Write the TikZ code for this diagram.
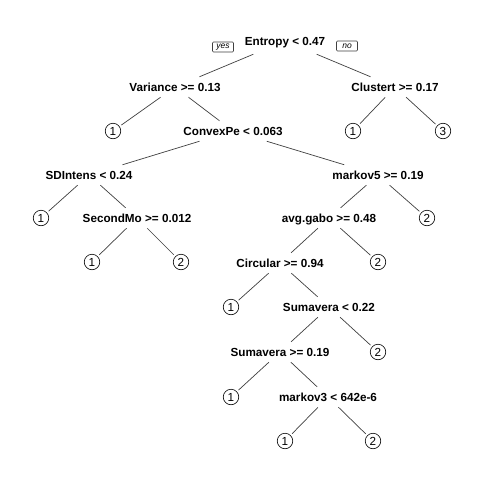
\documentclass[tikz,border=0pt]{standalone}
\usepackage{fontspec}
\setmainfont{Liberation Sans}
\begin{document}
\begin{tikzpicture}[x=1pt,y=-1pt,
  split/.style={inner xsep=2pt,inner ysep=5pt,outer sep=1pt,text height=8.5pt,text depth=0pt,
    font=\fontsize{11.7}{14}\selectfont\bfseries},
  rootsplit/.style={split,inner ysep=8pt},
  leaf/.style={circle,draw,line width=0.6pt,minimum size=15.5pt,inner sep=0pt,outer sep=2.5pt,
    font=\fontsize{11.7}{14}\selectfont},
  yn/.style={draw=black!75,line width=0.55pt,rounded corners=1pt,minimum width=21pt,minimum height=10pt,inner sep=1pt,
    font=\fontsize{8.5}{10}\selectfont\itshape},
  edge/.style={draw=black!75,line width=0.7pt}]
\useasboundingbox (0,0) rectangle (480,480);
\fill[white] (0,0) rectangle (480,480);
% split nodes
\node[rootsplit] (root) at (285,41) {Entropy < 0.47};
\node[yn] (yes) at (223,47) {yes};
\node[yn] (no) at (347,46) {no};
\node[split] (var) at (175,87) {Variance >= 0.13};
\node[split] (clu) at (395,87) {Clustert >= 0.17};
\node[split] (cvx) at (233,131) {ConvexPe < 0.063};
\node[split] (sdi) at (89,175) {SDIntens < 0.24};
\node[split] (mk5) at (378,175) {markov5 >= 0.19};
\node[split] (sec) at (137,218) {SecondMo >= 0.012};
\node[split] (avg) at (329,218) {avg.gabo >= 0.48};
\node[split] (cir) at (280,263) {Circular >= 0.94};
\node[split] (suma) at (329,307) {Sumavera < 0.22};
\node[split] (sumb) at (280,352) {Sumavera >= 0.19};
\node[split] (mk3) at (328,397) {markov3 < 642e-6};
% leaves
\node[leaf] (l1) at (113,131) {1};
\node[leaf] (l2) at (353,131) {1};
\node[leaf] (l3) at (443,131) {3};
\node[leaf] (l4) at (41,218) {1};
\node[leaf] (l5) at (427,218) {2};
\node[leaf] (l6) at (92,262) {1};
\node[leaf] (l7) at (181,262) {2};
\node[leaf] (l8) at (378,262) {2};
\node[leaf] (l9) at (231,307) {1};
\node[leaf] (l10) at (378,352) {2};
\node[leaf] (l11) at (231,397) {1};
\node[leaf] (l12) at (285,441) {1};
\node[leaf] (l13) at (373,441) {2};
% edges
\path[edge] (root) -- (var);
\path[edge] (root) -- (clu);
\path[edge] (var) -- (l1);
\path[edge] (var) -- (cvx);
\path[edge] (clu) -- (l2);
\path[edge] (clu) -- (l3);
\path[edge] (cvx) -- (sdi);
\path[edge] (cvx) -- (mk5);
\path[edge] (sdi) -- (l4);
\path[edge] (sdi) -- (sec);
\path[edge] (sec) -- (l6);
\path[edge] (sec) -- (l7);
\path[edge] (mk5) -- (avg);
\path[edge] (mk5) -- (l5);
\path[edge] (avg) -- (cir);
\path[edge] (avg) -- (l8);
\path[edge] (cir) -- (l9);
\path[edge] (cir) -- (suma);
\path[edge] (suma) -- (sumb);
\path[edge] (suma) -- (l10);
\path[edge] (sumb) -- (l11);
\path[edge] (sumb) -- (mk3);
\path[edge] (mk3) -- (l12);
\path[edge] (mk3) -- (l13);
\end{tikzpicture}
\end{document}
